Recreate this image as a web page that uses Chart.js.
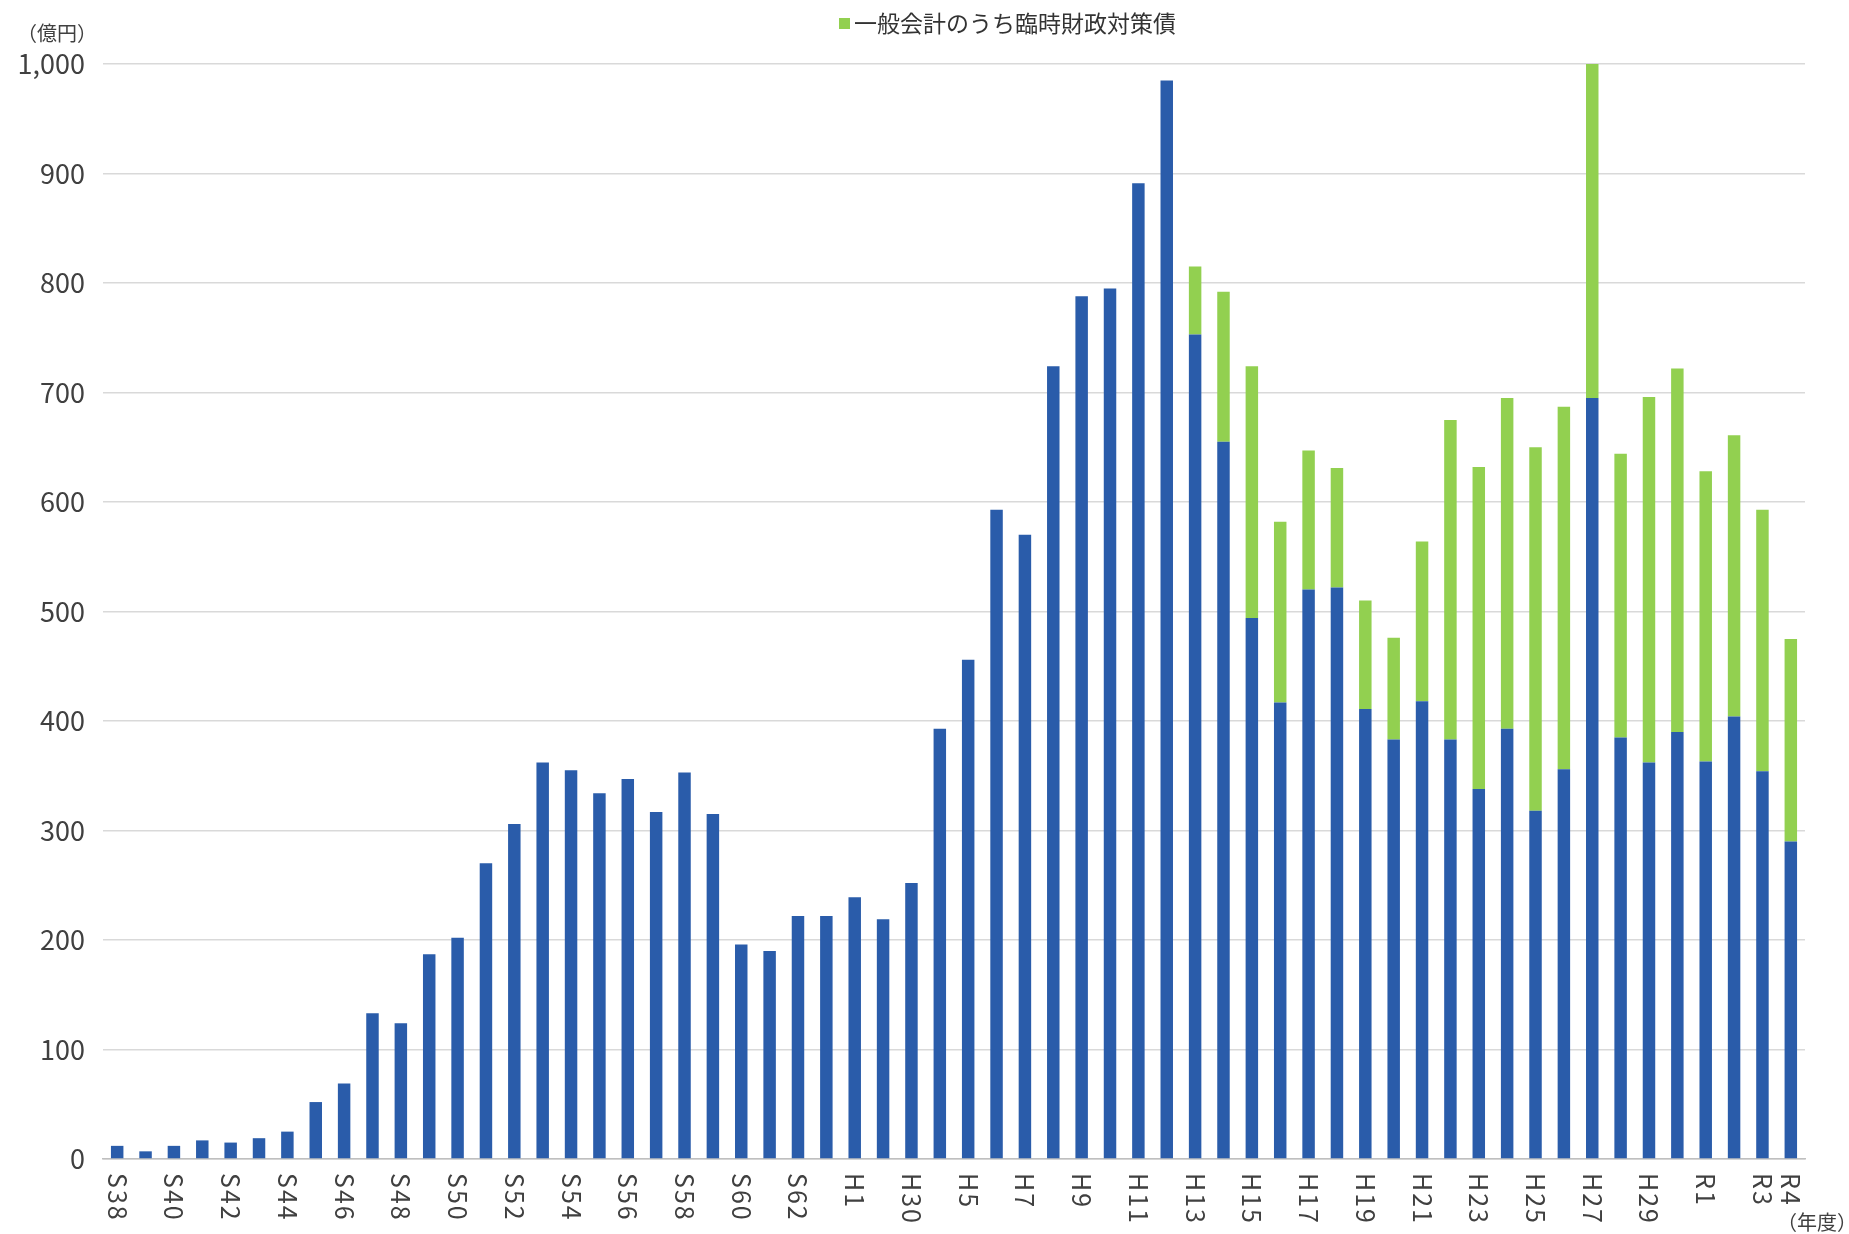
<!DOCTYPE html>
<html lang="ja">
<head>
<meta charset="utf-8">
<title>臨時財政対策債</title>
<script src="https://cdn.jsdelivr.net/npm/chart.js@4/dist/chart.umd.min.js"></script>
<style>
  html, body { margin: 0; padding: 0; background: #fff; }
  canvas { display: block; }
</style>
</head>
<body>
<canvas id="grafica" width="1849" height="1234"></canvas>
<script>
// 年度 (S38 〜 R4)
const categories = [
  'S38', 'S39', 'S40', 'S41', 'S42', 'S43', 'S44', 'S45', 'S46', 'S47',
  'S48', 'S49', 'S50', 'S51', 'S52', 'S53', 'S54', 'S55', 'S56', 'S57',
  'S58', 'S59', 'S60', 'S61', 'S62', 'S63',
  'H1', 'H2', 'H3', 'H4', 'H5', 'H6', 'H7', 'H8', 'H9', 'H10',
  'H11', 'H12', 'H13', 'H14', 'H15', 'H16', 'H17', 'H18', 'H19', 'H20',
  'H21', 'H22', 'H23', 'H24', 'H25', 'H26', 'H27', 'H28', 'H29', 'H30',
  'R1', 'R2', 'R3', 'R4'
];

// 軸ラベルは元の図の表記のまま（H3 の位置が「H30」と印字されている）
const printedLabels = { H3: 'H30' };

// 一般会計（臨時財政対策債を除く）億円
const generalValues = [
  12, 7, 12, 17, 15, 19, 25, 52, 69, 133,
  124, 187, 202, 270, 306, 362, 355, 334, 347, 317,
  353, 315, 196, 190, 222, 222,
  239, 219, 252, 393, 456, 593, 570, 724, 788, 795,
  891, 985, 753, 655, 494, 417, 520, 522, 411, 383,
  418, 383, 338, 393, 318, 356, 695, 385, 362, 390,
  363, 404, 354, 290
];

// 一般会計のうち臨時財政対策債 億円
const rinzaiValues = [
  null, null, null, null, null, null, null, null, null, null,
  null, null, null, null, null, null, null, null, null, null,
  null, null, null, null, null, null,
  null, null, null, null, null, null, null, null, null, null,
  null, null, 62, 137, 230, 165, 127, 109, 99, 93,
  146, 292, 294, 302, 332, 331, 305, 259, 334, 332,
  265, 257, 239, 185
];

const yTicks = [0, 100, 200, 300, 400, 500, 600, 700, 800, 900, 1000];

const AZUL = '#2a5caa';
const VERDE = '#92d050';
const TEXTO = '#404040';
const FUENTE = '"Noto Sans CJK JP", "Noto Sans", sans-serif';

// 1文字ずつ間隔をあけて描く
function textoEspaciado(ctx, texto, espacio) {
  let pos = 0;
  for (const ch of texto) {
    ctx.fillText(ch, pos, 0);
    pos += ctx.measureText(ch).width + espacio;
  }
}

// 軸ラベル・単位・凡例を描く
const textosPlugin = {
  id: 'textos',
  afterDraw(chart) {
    const { ctx, chartArea } = chart;
    const x = chart.scales.x;
    const last = categories.length - 1;

    ctx.save();
    ctx.fillStyle = TEXTO;

    // 年度ラベル（90° 回転）
    ctx.font = '25px ' + FUENTE;
    ctx.textAlign = 'left';
    ctx.textBaseline = 'middle';
    categories.forEach((c, i) => {
      if (i % 2 !== 0 && i !== last) return;
      const px = x.getPixelForValue(i);
      ctx.save();
      ctx.translate(px, chartArea.bottom + 14);
      ctx.rotate(Math.PI / 2);
      textoEspaciado(ctx, printedLabels[c] || c, 2);
      ctx.restore();
    });

    // 単位
    ctx.font = '20px ' + FUENTE;
    ctx.textAlign = 'right';
    ctx.fillText('（億円）', 97, 33);
    ctx.fillText('（年度）', 1857, 1222);

    // 凡例
    ctx.fillStyle = VERDE;
    ctx.fillRect(839, 18, 11, 11);
    ctx.fillStyle = '#333';
    ctx.font = '23px ' + FUENTE;
    ctx.textAlign = 'left';
    ctx.fillText(chart.data.datasets[1].label, 854, 23);

    ctx.restore();
  }
};

const ctx = document.getElementById('grafica').getContext('2d');

new Chart(ctx, {
  type: 'bar',
  data: {
    labels: categories,
    datasets: [
      {
        label: '一般会計',
        data: generalValues,
        backgroundColor: AZUL,
        barPercentage: 0.44,
        categoryPercentage: 1
      },
      {
        label: '一般会計のうち臨時財政対策債',
        data: rinzaiValues,
        backgroundColor: VERDE,
        barPercentage: 0.44,
        categoryPercentage: 1
      }
    ]
  },
  options: {
    responsive: false,
    animation: false,
    layout: { padding: { top: 64, right: 44, left: 0, bottom: 0 } },
    plugins: {
      legend: { display: false },
      tooltip: { enabled: false }
    },
    scales: {
      x: {
        stacked: true,
        grid: { display: false },
        border: { color: '#bfbfbf', width: 1.5 },
        ticks: { display: false },
        afterFit: (s) => { s.height = 75; }
      },
      y: {
        stacked: true,
        min: 0,
        max: 1000,
        afterBuildTicks: (s) => { s.ticks = yTicks.map(v => ({ value: v })); },
        ticks: {
          padding: 18,
          color: TEXTO,
          font: { family: FUENTE, size: 27 },
          callback: (v) => Number(v).toLocaleString('en-US')
        },
        grid: { color: '#d9d9d9', lineWidth: 1.5, drawTicks: false },
        border: { display: false },
        afterFit: (s) => { s.width = 103; }
      }
    }
  },
  plugins: [textosPlugin]
});
</script>
</body>
</html>
